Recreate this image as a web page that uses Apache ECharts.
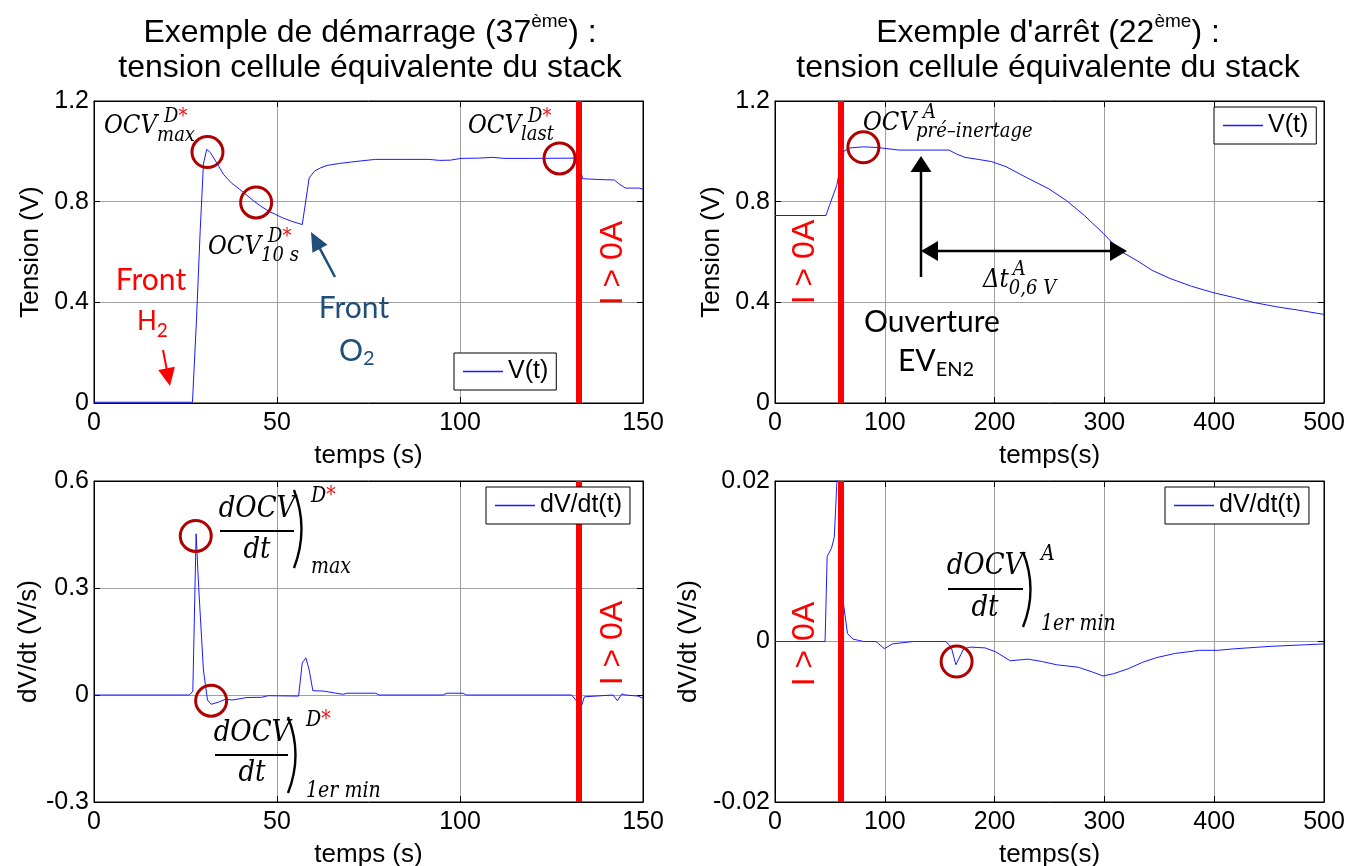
<!DOCTYPE html>
<html><head><meta charset="utf-8">
<script src="https://cdn.jsdelivr.net/npm/echarts/dist/echarts.min.js"></script>
<style>html,body{margin:0;padding:0;background:#fff}#c{width:1365px;height:866px}</style>
</head><body><div id="c"></div>
<script>
// ---------------- data ----------------
const xTicksStart = [0, 50, 100, 150];
const xTicksStop = [0, 100, 200, 300, 400, 500];
const yTicksV = [0, 0.4, 0.8, 1.2];
const yTicksDvStart = [-0.3, 0, 0.3, 0.6];
const yTicksDvStop = [-0.02, 0, 0.02];

// start-up (37th) : V(t)   [t (s), V]
const vStart = [[0,0.003],[26.9,0.003],[28,0.33],[29,0.68],[29.9,0.95],[30.8,1.008],[31.8,0.995],[33.5,0.955],[35.4,0.908],[37.5,0.875],[39.8,0.849],[41.8,0.825],[43.7,0.802],[45.6,0.782],[47.6,0.763],[49.5,0.75],[51.5,0.736],[54,0.722],[56.9,0.709],[58.8,0.895],[60.3,0.922],[62,0.935],[63.7,0.944],[67.1,0.952],[70,0.957],[73,0.962],[76.9,0.968],[85,0.968],[91.5,0.968],[94.4,0.964],[97.4,0.965],[100.3,0.972],[105,0.973],[109,0.976],[112,0.972],[120,0.972],[131.5,0.973],[132.5,0.955],[133.5,0.891],[138,0.888],[142.2,0.886],[143.5,0.87],[145.2,0.854],[149,0.854],[150,0.849]];
// shutdown (22nd) : V(t)
const vStop = [[0,0.745],[46.4,0.745],[50,0.79],[56.2,0.864],[60,0.95],[62.7,1.0],[67.5,1.013],[80.5,1.018],[93.5,1.015],[113,1.005],[130,1.005],[158.4,1.005],[165,0.99],[173,0.976],[185,0.968],[197.4,0.959],[210.4,0.939],[229.9,0.894],[249.4,0.851],[265.6,0.804],[281.8,0.745],[299,0.674],[314,0.605],[330,0.565],[343.5,0.527],[359.7,0.495],[379.2,0.464],[398.7,0.439],[418.2,0.419],[437.7,0.398],[457.1,0.382],[476.6,0.369],[500,0.352]];
// start-up : dV/dt(t)
const dvStart = [[0,0],[26,0],[27,0.01],[27.9,0.452],[28.6,0.302],[29.9,0.07],[31,-0.014],[32,-0.026],[34,-0.02],[35.9,-0.012],[37.9,-0.014],[41.8,-0.007],[45.7,-0.0065],[47.6,-0.002],[55.9,-0.003],[56.9,0.09],[57.9,0.104],[58.8,0.07],[59.8,0.012],[62.7,0.011],[66.1,0.005],[68.1,0.002],[69.1,0.005],[76.9,0.005],[77.9,0],[95.4,0],[96.4,0.005],[100.8,0.005],[101.8,0],[130.5,0],[132,-0.019],[133,-0.037],[134,-0.005],[141.8,0],[143,-0.016],[144.2,0.003],[145.2,0],[148.6,-0.003],[150,-0.009]];
// shutdown : dV/dt(t)
const dvStop = [[0,0],[45.6,0],[47.5,0.0106],[51.4,0.0116],[54,0.013],[56.3,0.0197],[58,0.026],[60,0.012],[62,0.0051],[66,0.001],[71,0.0003],[80.7,0],[92,0],[99.6,-0.0009],[106.8,-0.0003],[126.3,0],[128,-0.0002],[155.6,0],[160.5,-0.0007],[164.7,-0.0029],[171.9,-0.0009],[178.4,-0.0007],[191.4,-0.0008],[201.2,-0.0013],[214.2,-0.0024],[230.5,-0.0022],[243.5,-0.0025],[256.5,-0.0029],[276,-0.0032],[289,-0.0038],[298.8,-0.0043],[308.6,-0.004],[321.6,-0.0034],[334.6,-0.0026],[347.7,-0.002],[363.9,-0.0015],[386.7,-0.0011],[403,-0.0011],[419.3,-0.0009],[451.8,-0.0006],[484.4,-0.0004],[500,-0.0003]];

// annotation points (data units)
const circStartV = [[31,0.997],[44.3,0.797],[127.2,0.972]];
const circStopV = [[80.5,1.016]];
const circStartDv = [[27.8,0.446],[32,-0.016]];
const circStopDv = [[165.4,-0.0025]];
const currentOnStart = 132.5;
const currentOnStop = 59.5;

// ---------------- styles ----------------
const SANS = '"Liberation Sans", Arial, sans-serif';
const BLUE = '#1a1aff';
const RED = '#ff0000';
const DRED = '#b00000';
const NAVY = '#1f4e79';
const mathFont = s => `italic ${s}px "DejaVu Serif"`;
const sansFont = s => `${s}px "Liberation Sans"`;
const calFont = s => `${s}px Lato`;
const MSY = 1.15; // vertical stretch for math glyphs

const mctx = document.createElement('canvas').getContext('2d');
function tw(text, font){ mctx.font = font; return mctx.measureText(text).width; }

function T(x, y, text, font, fill, align, extra){
  align = align || 'left';
  return Object.assign({type:'text', x:x, y:y, z:100, silent:true,
    style:{text:text, font:font, fill:fill, align:align, verticalAlign:'middle', textAlign:align, textVerticalAlign:'middle'}}, extra||{});
}
function M(x, y, text, size, fill, align){ return T(x, y, text, mathFont(size), fill, align, {scaleY:MSY}); }
function mathLabel(x, cy, base, sups, sub, bs, ss, supDy, subDy, supDx, subDx){
  const out = [M(x, cy, base, bs, '#000')];
  const bw = tw(base, mathFont(bs));
  let sx = x + bw + supDx;
  sups.forEach(p => { out.push(M(sx, cy + supDy, p[0], ss, p[1])); sx += tw(p[0], mathFont(ss)); });
  if (sub) out.push(M(x + bw + subDx, cy + subDy, sub, ss, '#000'));
  return out;
}
function arrowHead(x1,y1,x2,y2,len,w,color){
  const dx=x2-x1, dy=y2-y1, L=Math.hypot(dx,dy), ux=dx/L, uy=dy/L;
  const bx=x2-ux*len, by=y2-uy*len;
  return {type:'polygon', z:100, silent:true, shape:{points:[[x2,y2],[bx-uy*w/2,by+ux*w/2],[bx+uy*w/2,by-ux*w/2]]}, style:{fill:color}};
}
function arrow(x1,y1,x2,y2,color,lw,len,w){
  const dx=x2-x1, dy=y2-y1, L=Math.hypot(dx,dy);
  const ex=x2-dx/L*len*0.8, ey=y2-dy/L*len*0.8;
  return [{type:'line', z:100, silent:true, shape:{x1:x1,y1:y1,x2:ex,y2:ey}, style:{stroke:color, lineWidth:lw}}, arrowHead(x1,y1,x2,y2,len,w,color)];
}
function line(x1,y1,x2,y2,color,lw){ return {type:'line', z:100, silent:true, shape:{x1:x1,y1:y1,x2:x2,y2:y2}, style:{stroke:color, lineWidth:lw}}; }
function paren(x, y1, y2, bulge){
  return {type:'bezierCurve', z:100, silent:true, shape:{x1:x, y1:y1, x2:x, y2:y2, cpx1:x+2*bulge, cpy1:(y1+y2)/2}, style:{stroke:'#000', lineWidth:2.4, fill:null}};
}
function fraction(cx, numCy, barY, bx1, bx2, denCy, px, py1, py2, sups, sub, supCy, subCy, scriptX){
  const out = [M(cx, numCy, 'dOCV', 26, '#000', 'center'), line(bx1,barY,bx2,barY,'#000',2.2), M(cx, denCy, 'dt', 26, '#000', 'center'), paren(px, py1, py2, 7.5)];
  let sx = scriptX;
  sups.forEach(p => { out.push(M(sx, supCy, p[0], 19, p[1])); sx += tw(p[0], mathFont(19)); });
  out.push(M(scriptX, subCy, sub, 19, '#000'));
  return out;
}
function titleLines(cx, y1, y2, pre, sup, post, line2){
  const f = sansFont(32), fs = sansFont(19);
  const w1 = tw(pre, f), ws = tw(sup, fs), w3 = tw(post, f);
  const x0 = cx - (w1 + ws + w3) / 2;
  return [T(x0, y1, pre, f, '#000'), T(x0 + w1, y1 - 11, sup, fs, '#000'), T(x0 + w1 + ws, y1, post, f, '#000'),
          T(cx, y2, line2, f, '#000', 'center')];
}
function vertLabel(x, y){ return T(x, y, 'I > 0A', sansFont(32), RED, 'center', {rotation: Math.PI/2}); }

// ---------------- layout ----------------
const grids = [
  {left:94, top:101, width:549, height:302},
  {left:775, top:101, width:549, height:302},
  {left:94, top:481, width:549, height:321},
  {left:775, top:481, width:549, height:321}
];
const fmt = v => String(Math.round(v * 10000) / 10000);
function xAx(g, ticks, name, main){
  return {type:'value', gridIndex:g, position: main ? 'bottom' : 'top', min:ticks[0], max:ticks[ticks.length-1], interval:ticks[1]-ticks[0],
    name: main ? name : '', nameLocation:'middle', nameGap:40, nameTextStyle:{fontSize:26, color:'#000', fontFamily:SANS},
    axisLine:{show:true, onZero:false, lineStyle:{color:'#000', width:1}},
    axisTick:{show:true, inside:true, length:6, lineStyle:{color:'#000', width:1}},
    axisLabel:{show:main, fontSize:25, color:'#000', fontFamily:SANS, margin:8, formatter:fmt},
    splitLine:{show:main, lineStyle:{color:'#a0a0a0', width:1}}};
}
function yAx(g, ticks, name, main, gap){
  return {type:'value', gridIndex:g, position: main ? 'left' : 'right', min:ticks[0], max:ticks[ticks.length-1], interval:ticks[1]-ticks[0],
    name: main ? name : '', nameLocation:'middle', nameGap:gap, nameTextStyle:{fontSize:26, color:'#000', fontFamily:SANS},
    axisLine:{show:true, onZero:false, lineStyle:{color:'#000', width:1}},
    axisTick:{show:true, inside:true, length:6, lineStyle:{color:'#000', width:1}},
    axisLabel:{show:main, fontSize:25, color:'#000', fontFamily:SANS, margin:5, formatter:fmt},
    splitLine:{show:main, lineStyle:{color:'#a0a0a0', width:1}}};
}
const xAxes = [], yAxes = [];
[[xTicksStart,'temps (s)'],[xTicksStop,'temps(s)'],[xTicksStart,'temps (s)'],[xTicksStop,'temps(s)']].forEach((d,g)=>{ xAxes.push(xAx(g,d[0],d[1],true)); xAxes.push(xAx(g,d[0],d[1],false)); });
[[yTicksV,'Tension (V)',50],[yTicksV,'Tension (V)',50],[yTicksDvStart,'dV/dt (V/s)',50],[yTicksDvStop,'dV/dt (V/s)',73]].forEach((d,g)=>{ yAxes.push(yAx(g,d[0],d[1],true,d[2])); yAxes.push(yAx(g,d[0],d[1],false,d[2])); });

function curve(name, g, data, iOn){
  return {type:'line', name:name, xAxisIndex:2*g, yAxisIndex:2*g, data:data, showSymbol:false, symbol:'none', color:BLUE,
    lineStyle:{color:BLUE, width:1}, itemStyle:{color:BLUE}, clip:true, z:3, silent:true,
    markLine:{symbol:['none','none'], silent:true, animation:false, label:{show:false}, lineStyle:{color:RED, width:6, type:'solid', opacity:1}, data:[{xAxis:iOn}]}};
}
function circles(g, data){
  return {type:'scatter', name:'circ'+g, xAxisIndex:2*g, yAxisIndex:2*g, data:data, symbol:'circle', symbolSize:31, silent:true, z:10,
    itemStyle:{color:'rgba(0,0,0,0)', borderColor:DRED, borderWidth:3, opacity:1}};
}
const legendBase = {orient:'horizontal', icon:'rect', itemWidth:40, itemHeight:1.5, itemGap:0, selectedMode:false,
  textStyle:{fontSize:25, color:'#000', fontFamily:SANS}, borderColor:'#000', borderWidth:1, backgroundColor:'#fff', padding:[6,8,6,9], z:50};

// ---------------- annotations (pixels) ----------------
const RS = [['D','#000'],['*','#ee1111']];
let g = [];
g = g.concat(titleLines(370, 33, 68, 'Exemple de démarrage (37', 'ème', ') :', 'tension cellule équivalente du stack'));
g = g.concat(titleLines(1048, 33, 68, 'Exemple d\'arrêt (22', 'ème', ') :', 'tension cellule équivalente du stack'));
g = g.concat(mathLabel(104, 126, 'OCV', RS, 'max', 23, 18, -9, 10, 7, 0));
g = g.concat(mathLabel(468, 126, 'OCV', RS, 'last', 23, 18, -9, 9, 7, 0));
g = g.concat(mathLabel(208, 247, 'OCV', RS, '10 s', 23, 18, -10, 9, 7, 0));
g = g.concat(mathLabel(863, 123, 'OCV', [['A','#000']], 'pré–inertage', 23, 18, -10, 9, 7, 0));
g = g.concat(mathLabel(983, 280, 'Δt', [['A','#000']], '0,6 V', 23, 18, -10, 9, 4, 0));
g = g.concat(fraction(257, 509, 531, 220, 294, 550, 294, 490, 568, RS, 'max', 496, 567, 311));
g = g.concat(fraction(252, 733, 755, 215, 288, 773, 288, 717, 793, RS, '1er min', 720, 791, 306));
g = g.concat(fraction(985, 566, 589, 948, 1023, 608, 1023, 552, 627, [['A','#000']], '1er min', 554, 624, 1041));
// Front H2
g.push(T(151, 280, 'Front', calFont(30), RED, 'center'));
g.push(T(137, 322, 'H', calFont(26), RED));
g.push(T(137 + tw('H', calFont(26)), 331, '2', calFont(19), RED));
g = g.concat(arrow(163, 350, 170, 386, RED, 2, 18, 17));
// Front O2
g.push(T(354, 308, 'Front', calFont(30), NAVY, 'center'));
g.push(T(339, 351, 'O', calFont(30), NAVY));
g.push(T(339 + tw('O', calFont(30)), 359, '2', calFont(20), NAVY));
g = g.concat(arrow(335, 277, 311, 232, NAVY, 2.5, 19, 17));
// Ouverture EV_EN2
g.push(T(864, 322, 'Ouverture', calFont(30), '#000'));
g.push(T(898, 361, 'EV', calFont(30), '#000'));
g.push(T(898 + tw('EV', calFont(30)), 370, 'EN2', calFont(20), '#000'));
// black arrows
g = g.concat(arrow(921, 277, 921, 156, '#000', 2.5, 16, 21));
g.push(line(930, 251, 1118, 251, '#000', 2.5));
g.push(arrowHead(1127, 251, 921, 251, 17, 20, '#000'));
g.push(arrowHead(921, 251, 1127, 251, 17, 20, '#000'));
// I > 0A
g.push(vertLabel(613, 263), vertLabel(613, 643), vertLabel(805, 262), vertLabel(805, 644));

const option = {
  animation:false,
  backgroundColor:'#fff',
  grid: grids.map(r => Object.assign({show:true, borderColor:'#000', borderWidth:1, backgroundColor:'#fff', containLabel:false, outerBoundsMode:'none'}, r)),
  xAxis: xAxes, yAxis: yAxes,
  legend: [
    Object.assign({}, legendBase, {data:['V(t)'], left:454, top:353}),
    Object.assign({}, legendBase, {data:['V(t)'], left:1214, top:107}),
    Object.assign({}, legendBase, {data:['dV/dt(t)'], left:486, top:487}),
    Object.assign({}, legendBase, {data:['dV/dt(t)'], left:1165, top:487})
  ],
  series: [
    curve('V(t)', 0, vStart, currentOnStart),
    curve('V(t)', 1, vStop, currentOnStop),
    curve('dV/dt(t)', 2, dvStart, currentOnStart),
    curve('dV/dt(t)', 3, dvStop, currentOnStop),
    circles(0, circStartV), circles(1, circStopV), circles(2, circStartDv), circles(3, circStopDv)
  ],
  graphic: g
};
const chart = echarts.init(document.getElementById('c'));
chart.setOption(option);
</script></body></html>
